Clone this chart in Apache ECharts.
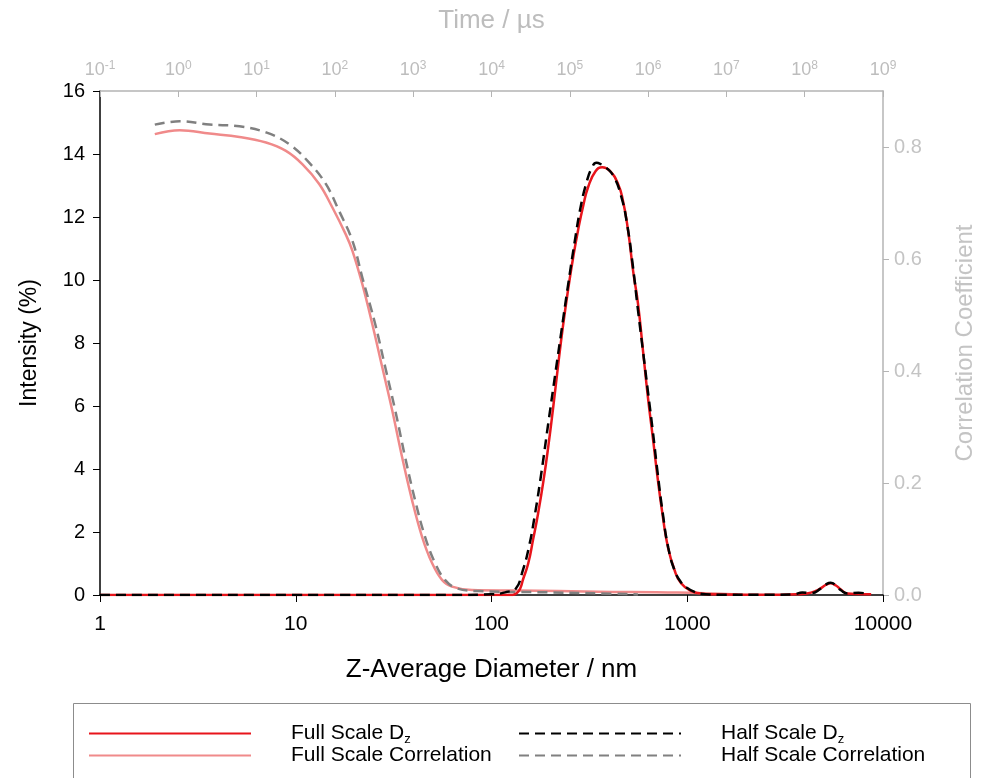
<!DOCTYPE html>
<html>
<head>
<meta charset="utf-8">
<script src="https://cdn.jsdelivr.net/npm/echarts@6/dist/echarts.min.js"></script>
<style>
html,body{margin:0;padding:0;background:#fff;overflow:hidden;}
#chart{width:985px;height:778px;}
</style>
</head>
<body>
<div id="chart"></div>
<script>
// ---- Data ----
const diamFull = [1, 10, 100, 128, 134, 140, 145, 154, 163, 173, 184, 195, 207, 219, 232, 246, 261, 277, 294, 312, 340, 368, 400, 443, 470, 498, 530, 560, 595, 629, 670, 708, 750, 796, 860, 930, 1050, 1175, 1300, 2000, 3000, 3600, 4085, 4500, 4800, 5100, 5400, 5750, 6070, 6590, 7500, 8700];
const intFull = [0, 0, 0, 0, 0.05, 0.2, 0.5, 1.0, 1.75, 2.59, 3.6, 4.71, 6.0, 7.3, 8.55, 9.68, 10.7, 11.59, 12.35, 12.96, 13.45, 13.58, 13.48, 13.05, 12.5, 11.59, 10.25, 9.26, 7.72, 6.30, 4.9, 3.65, 2.5, 1.53, 0.8, 0.37, 0.12, 0.05, 0.02, 0.01, 0.01, 0.02, 0.05, 0.12, 0.21, 0.32, 0.37, 0.3, 0.18, 0.05, 0.03, 0.02];

const diamHalf = [1, 10, 60, 100, 120, 133, 143, 155, 167, 180, 195, 211, 228, 247, 267, 285, 305, 325, 344, 362, 380, 420, 460, 493, 528, 560, 594, 630, 667, 705, 750, 800, 861, 930, 1000, 1088, 1200, 1500, 2500, 3500, 3870, 4300, 4800, 5100, 5400, 5750, 6100, 6600, 7500, 8500];
const intHalf = [0, 0, 0, 0.02, 0.1, 0.2, 0.69, 1.5, 2.59, 3.9, 5.45, 6.95, 8.41, 9.9, 11.27, 12.3, 13.07, 13.55, 13.72, 13.68, 13.6, 13.3, 12.65, 11.77, 10.42, 9.05, 7.75, 6.45, 5.2, 3.9, 2.59, 1.5, 0.79, 0.4, 0.22, 0.1, 0.03, 0.01, 0.01, 0.02, 0.08, 0.06, 0.2, 0.33, 0.39, 0.3, 0.15, 0.05, 0.07, 0.03];

const timeFull = [0.501, 1.042, 2.51, 6.04, 13.2, 23.7, 38.6, 63.0, 92.9, 137.6, 167, 224, 300, 402, 539, 722, 968, 1298, 1741, 2333, 3126, 5614, 22070, 229600, 2390000, 13900000];
const corrFull = [0.823, 0.830, 0.824, 0.818, 0.808, 0.793, 0.769, 0.734, 0.692, 0.644, 0.615, 0.555, 0.484, 0.407, 0.330, 0.246, 0.169, 0.104, 0.057, 0.027, 0.015, 0.009, 0.008, 0.006, 0.0045, 0.001];

const timeHalf = [0.501, 1.042, 2.51, 6.04, 13.2, 26.1, 46.9, 76.6, 113, 167, 224, 327, 439, 589, 789, 1058, 1417, 1900, 2546, 3589, 6836, 39630, 229600, 741000];
const corrHalf = [0.840, 0.846, 0.840, 0.837, 0.826, 0.805, 0.772, 0.734, 0.686, 0.633, 0.567, 0.484, 0.407, 0.330, 0.246, 0.169, 0.104, 0.057, 0.027, 0.012, 0.007, 0.005, 0.003, 0.001];

const seriesNames = ['Full Scale Dz', 'Half Scale Dz', 'Full Scale Correlation', 'Half Scale Correlation'];
const leftTicks = [0, 2, 4, 6, 8, 10, 12, 14, 16];

// ---- Styling ----
const FONT = '"Liberation Sans", Arial, sans-serif';
const RED = '#e8141b', PINK = '#f08a8a', GRAY = '#808080', BLACK = '#000000';
const LIGHT = '#bdbdbd';

function pairs(xs, ys) { return xs.map((x, i) => [x, ys[i]]); }

const chart = echarts.init(document.getElementById('chart'));

function legendFmt(name) {
  if (name.endsWith('Dz')) return '{t|' + name.slice(0, -1) + '}{s|z}';
  return '{t|' + name + '}';
}
const legendRich = {
  t: { fontSize: 21, color: '#000', fontFamily: FONT, padding: [0, 0, 0, 35] },
  s: { fontSize: 13, color: '#000', fontFamily: FONT, padding: [12, 0, 0, 0] }
};
function mkLegend(name, left, top) {
  return {
    data: [name], left: left, top: top, padding: 0, itemWidth: 162, itemHeight: 12,
    selectedMode: false, formatter: legendFmt,
    itemStyle: { opacity: 0, borderWidth: 0 },
    textStyle: { fontSize: 21, fontFamily: FONT, color: '#000', rich: legendRich }
  };
}

const option = {
  animation: false,
  backgroundColor: '#fff',
  grid: { left: 100, right: 99, top: 91, bottom: 183, containLabel: false },
  legend: [
    mkLegend(seriesNames[0], 88, 723),
    mkLegend(seriesNames[1], 518, 723),
    mkLegend(seriesNames[2], 88, 745),
    mkLegend(seriesNames[3], 518, 745)
  ],
  graphic: [{
    type: 'rect', left: 71, top: 701, z: -1,
    shape: { width: 897, height: 100 },
    style: { fill: 'none', stroke: '#8c8c8c', lineWidth: 1 }
  }],
  xAxis: [{
    type: 'log', logBase: 10, min: 1, max: 10000, position: 'bottom',
    name: 'Z-Average Diameter / nm', nameLocation: 'middle', nameGap: 62,
    nameTextStyle: { fontSize: 26, color: '#000', fontFamily: FONT },
    axisLine: { onZero: false, lineStyle: { color: '#000', width: 1.5 } },
    axisTick: { inside: false, length: 7, lineStyle: { color: '#000' } },
    minorTick: { show: false },
    splitLine: { show: false },
    axisLabel: { fontSize: 21, color: '#000', fontFamily: FONT, margin: 19,
      formatter: v => String(Math.round(v)) }
  }, {
    type: 'log', logBase: 10, min: 0.1, max: 1e9, position: 'top', splitNumber: 10,
    name: 'Time / \u00b5s', nameLocation: 'middle', nameGap: 57,
    nameTextStyle: { fontSize: 26, color: LIGHT, fontFamily: FONT },
    axisLine: { onZero: false, lineStyle: { color: '#b4b4b4', width: 1.5 } },
    axisTick: { inside: true, length: 6, lineStyle: { color: '#b4b4b4' } },
    splitLine: { show: false },
    axisLabel: {
      margin: 10,
      formatter: v => '{b|10}{s|' + Math.round(Math.log10(v)) + '}',
      rich: {
        b: { fontSize: 18, color: LIGHT, fontFamily: FONT },
        s: { fontSize: 12, color: LIGHT, fontFamily: FONT, padding: [0, 0, 9, 0] }
      }
    }
  }],
  yAxis: [{
    type: 'value', min: 0, max: 16, interval: 2, position: 'left',
    name: 'Intensity (%)', nameLocation: 'middle', nameGap: 59, nameRotate: 90,
    nameTextStyle: { fontSize: 23, color: '#000', fontFamily: FONT },
    axisLine: { show: true, onZero: false, lineStyle: { color: '#000', width: 1.5 } },
    axisTick: { show: true, inside: false, length: 7, lineStyle: { color: '#000' } },
    splitLine: { show: false },
    axisLabel: { fontSize: 20, color: '#000', fontFamily: FONT, margin: 15,
      formatter: v => (leftTicks.indexOf(v) >= 0 ? String(v) : '') }
  }, {
    type: 'value', min: 0, max: 0.9, interval: 0.2, position: 'right',
    name: 'Correlation Coefficient', nameLocation: 'middle', nameGap: 70, nameRotate: 90,
    nameTextStyle: { fontSize: 24, color: '#c4c4c4', fontFamily: FONT },
    axisLine: { show: true, onZero: false, lineStyle: { color: '#b4b4b4', width: 1.5 } },
    axisTick: { show: true, inside: false, length: 6, lineStyle: { color: '#b4b4b4' } },
    splitLine: { show: false },
    axisLabel: { showMaxLabel: false, fontSize: 20, color: '#c4c4c4', fontFamily: FONT, margin: 11,
      formatter: v => (Math.abs(v - 0.9) < 1e-6 ? '' : v.toFixed(1)) }
  }],
  series: [{
    name: seriesNames[2], type: 'line', xAxisIndex: 1, yAxisIndex: 1,
    data: pairs(timeFull, corrFull), showSymbol: false, symbol: 'none', smooth: 0.4,
    lineStyle: { color: PINK, width: 2.5 }, itemStyle: { color: PINK }, z: 2
  }, {
    name: seriesNames[3], type: 'line', xAxisIndex: 1, yAxisIndex: 1,
    data: pairs(timeHalf, corrHalf), showSymbol: false, symbol: 'none', smooth: 0.4,
    lineStyle: { color: GRAY, width: 2.5, type: [10, 6] }, itemStyle: { color: GRAY }, z: 3
  }, {
    name: seriesNames[0], type: 'line', xAxisIndex: 0, yAxisIndex: 0,
    data: pairs(diamFull, intFull), showSymbol: false, symbol: 'none', smooth: 0.5,
    lineStyle: { color: RED, width: 2.5 }, itemStyle: { color: RED }, z: 4
  }, {
    name: seriesNames[1], type: 'line', xAxisIndex: 0, yAxisIndex: 0,
    data: pairs(diamHalf, intHalf), showSymbol: false, symbol: 'none', smooth: 0.5,
    lineStyle: { color: BLACK, width: 2.5, type: [10, 6] }, itemStyle: { color: BLACK }, z: 5
  }]
};
chart.setOption(option);
</script>
</body>
</html>
